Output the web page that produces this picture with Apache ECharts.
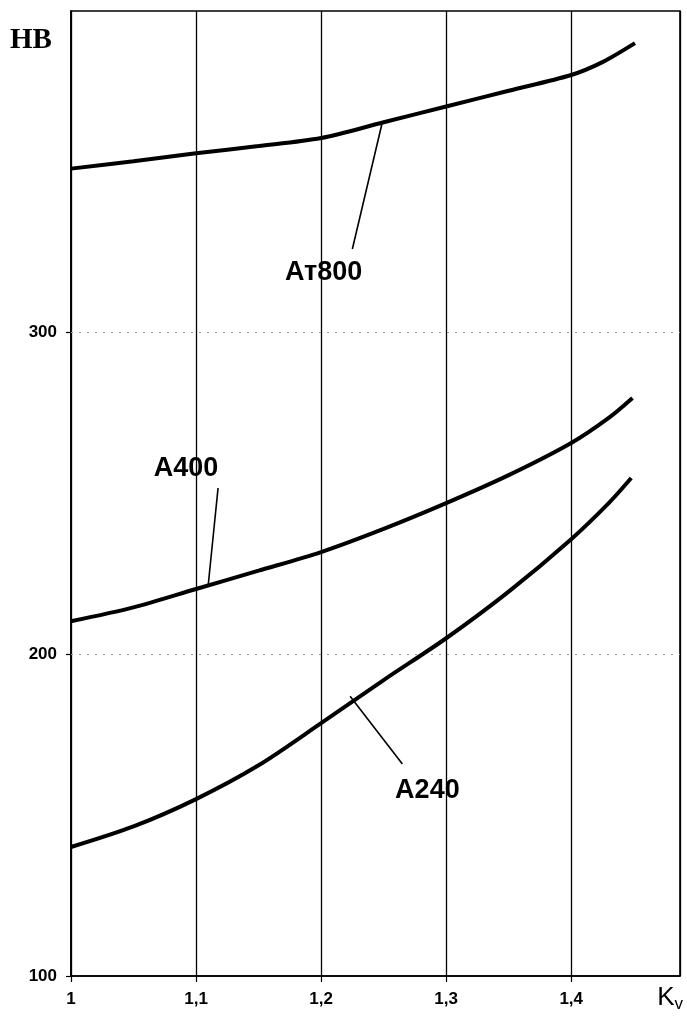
<!DOCTYPE html>
<html>
<head>
<meta charset="utf-8">
<script src="https://cdn.jsdelivr.net/npm/echarts@6/dist/echarts.min.js"></script>
<style>
html,body{margin:0;padding:0;background:#fff;}
#c{width:687px;height:1023px;}
</style>
</head>
<body>
<div id="c"></div>
<script>
// Data
var xTicks = [1, 1.1, 1.2, 1.3, 1.4];
var yTicks = [100, 200, 300];
var yGrid = [200, 300];

var at800Kv = [1, 1.05, 1.1, 1.15, 1.2, 1.25, 1.3, 1.35, 1.4, 1.425, 1.451];
var at800HB = [351, 353.3, 355.8, 358, 360.5, 365.4, 370.3, 375.2, 380.1, 384.1, 390];

var a400Kv = [1, 1.05, 1.1, 1.15, 1.2, 1.25, 1.3, 1.35, 1.4, 1.43, 1.449];
var a400HB = [210.3, 214.6, 220.3, 226, 231.8, 239, 247, 255.7, 265.7, 273.5, 279.7];

var a240Kv = [1, 1.05, 1.1, 1.15, 1.2, 1.25, 1.3, 1.35, 1.4, 1.43, 1.448];
var a240HB = [140.1, 146.5, 155, 165.5, 178.6, 192, 205, 219.5, 235.8, 247, 254.8];

// Annotation anchors (data coordinates)
var at800Label = {text: 'Ат800', pos: [1.202, 318.8], lead: [[1.249, 365.5], [1.225, 326]]};
var a400Label  = {text: 'А400',  pos: [1.092, 257.9], lead: [[1.1096, 221.0], [1.1176, 251.7]]};
var a240Label  = {text: 'А240',  pos: [1.285, 157.8], lead: [[1.2232, 187.0], [1.265, 165.9]]};

function zip(a, b) { return a.map(function (v, i) { return [v, b[i]]; }); }

function makeSeries(kv, hb, lab) {
  return {
    type: 'line',
    data: zip(kv, hb),
    smooth: 0.3,
    showSymbol: false,
    symbol: 'none',
    lineStyle: {color: '#000', width: 4},
    silent: true,
    z: 5,
    markLine: {
      silent: true,
      symbol: ['none', 'none'],
      label: {show: false},
      lineStyle: {color: '#000', width: 1.6, type: 'solid'},
      data: [[{coord: lab.lead[0]}, {coord: lab.lead[1]}]]
    },
    markPoint: {
      silent: true,
      symbol: 'circle',
      symbolSize: 0,
      label: {
        show: true,
        position: 'inside',
        formatter: lab.text,
        color: '#000',
        fontFamily: 'Liberation Sans, Arial, sans-serif',
        fontWeight: 'bold',
        fontSize: 27
      },
      data: [{coord: lab.pos}]
    }
  };
}

var series = [
  makeSeries(at800Kv, at800HB, at800Label),
  makeSeries(a400Kv, a400HB, a400Label),
  makeSeries(a240Kv, a240HB, a240Label)
];
// dotted horizontal grid lines
series.push({
  type: 'line',
  data: [],
  silent: true,
  z: 1,
  markLine: {
    silent: true,
    symbol: ['none', 'none'],
    label: {show: false},
    lineStyle: {color: '#999', width: 1, type: [2, 6]},
    data: yGrid.map(function (v) { return {yAxis: v}; })
  }
});

var chart = echarts.init(document.getElementById('c'), null, {renderer: 'canvas'});
chart.setOption({
  animation: false,
  backgroundColor: '#fff',
  grid: {left: 71, right: 7, top: 11, bottom: 47, show: true, borderColor: '#000', borderWidth: 1.6, backgroundColor: 'transparent'},
  xAxis: {
    type: 'value',
    min: 1,
    max: 1.487,
    interval: 0.1,
    axisLine: {show: true, lineStyle: {color: '#000', width: 1.6}},
    axisTick: {show: true, length: 6, lineStyle: {color: '#000', width: 1.2}},
    splitLine: {show: true, lineStyle: {color: '#000', width: 1.3}},
    axisLabel: {
      color: '#000', fontFamily: 'Liberation Sans, Arial, sans-serif', fontWeight: 'bold', fontSize: 17, margin: 15,
      showMaxLabel: false,
      formatter: function (v) {
        var r = Math.round(v * 10) / 10;
        if (xTicks.indexOf(r) < 0) return '';
        return r === 1 ? '1' : r.toFixed(1).replace('.', ',');
      }
    }
  },
  yAxis: {
    type: 'value',
    min: 100,
    max: 400,
    interval: 100,
    axisLine: {show: true, lineStyle: {color: '#000', width: 1.6}},
    axisTick: {show: true, length: 5, lineStyle: {color: '#000', width: 1.2}},
    splitLine: {show: false},
    axisLabel: {
      color: '#000', fontFamily: 'Liberation Sans, Arial, sans-serif', fontWeight: 'bold', fontSize: 17, margin: 14,
      showMaxLabel: false,
      formatter: function (v) { return yTicks.indexOf(v) >= 0 ? String(v) : ''; }
    }
  },
  graphic: [
    {type: 'text', left: 10, top: 26, style: {text: 'HB', fill: '#000', font: 'bold 29px "Liberation Serif", "Times New Roman", serif'}},
    {type: 'text', right: 4, top: 985, style: {
      text: 'K{s|v}', fill: '#000', font: '26px "Liberation Sans", Arial, sans-serif',
      rich: {s: {fontSize: 17, fontFamily: 'Liberation Sans, Arial, sans-serif', verticalAlign: 'bottom', padding: [12, 0, 0, 0]}}
    }}
  ],
  series: series
});
</script>
</body>
</html>
